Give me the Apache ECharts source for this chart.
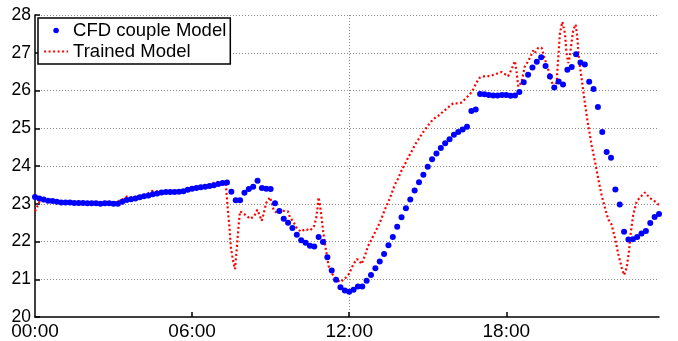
<!DOCTYPE html>
<html>
<head>
<meta charset="utf-8">
<script src="https://cdn.jsdelivr.net/npm/echarts@6/dist/echarts.min.js"></script>
<style>
  html, body { margin: 0; padding: 0; background: #fff; }
  #chart { width: 678px; height: 341px; }
</style>
</head>
<body>
<div id="chart"></div>
<script>
// CFD couple model: one value every 10 minutes, 00:00 .. 23:50
const cfdValues = [
  23.18, 23.14, 23.11, 23.08, 23.07, 23.05, 23.03, 23.03, 23.03, 23.02,
  23.02, 23.02, 23.01, 23.01, 23.01, 23.00, 23.01, 23.01, 23.00, 23.00,
  23.05, 23.10, 23.12, 23.14, 23.17, 23.20, 23.22, 23.25, 23.27, 23.30,
  23.31, 23.31, 23.31, 23.32, 23.33, 23.37, 23.40, 23.42, 23.44, 23.45,
  23.47, 23.49, 23.52, 23.55, 23.56,
  23.32, 23.09, 23.09, 23.29, 23.39, 23.45, 23.61, 23.42, 23.40, 23.39,
  23.01, 22.81, 22.60, 22.50, 22.36, 22.18, 22.03, 21.97, 21.89, 21.87,
  22.12, 21.99, 21.58, 21.23, 20.99,
  20.79, 20.70, 20.67, 20.72, 20.81, 20.81, 20.96, 21.11, 21.29, 21.47,
  21.67, 21.90, 22.12, 22.39, 22.64, 22.88, 23.11, 23.35, 23.57, 23.77,
  23.98, 24.18, 24.33, 24.48, 24.60, 24.71, 24.83, 24.90, 24.97, 25.04,
  25.46, 25.50, 25.91, 25.90, 25.88, 25.87, 25.87, 25.88, 25.88, 25.86,
  25.87, 25.96, 26.22, 26.42, 26.61, 26.76, 26.88, 26.65, 26.37, 26.08,
  26.24, 26.16, 26.55, 26.62, 26.96, 26.74, 26.69, 26.23, 26.04, 25.56,
  24.90, 24.37, 24.22, 23.38, 22.98, 22.26, 22.05, 22.06, 22.12, 22.21,
  22.28, 22.49, 22.65, 22.73
];
const cfdStepHours = 10 / 60;

// Trained model (hours, °C)
const trainedHours = [
  0.00, 0.09, 0.19, 0.57, 0.96, 1.53, 2.10, 2.67, 3.00, 3.13,
  3.31, 3.50, 3.74, 4.01, 4.27, 4.48, 4.70, 5.03, 5.54, 5.73,
  5.92, 6.18, 6.50, 6.75, 7.07, 7.29, 7.36, 7.43, 7.48, 7.58,
  7.64, 7.73, 7.78, 7.83, 8.02, 8.22, 8.37, 8.49, 8.57, 8.66,
  8.72, 8.83, 8.90, 8.98, 9.04, 9.11, 9.24, 9.36, 9.50, 9.66,
  9.74, 9.87, 10.00, 10.15, 10.32, 10.51, 10.66, 10.74, 10.79, 10.83,
  10.89, 10.96, 11.02, 11.12, 11.21, 11.30, 11.46, 11.65, 11.84, 12.00,
  12.15, 12.28, 12.36, 12.47, 12.60, 12.72, 12.85, 12.98, 13.11, 13.23,
  13.36, 13.49, 13.61, 13.74, 13.87, 14.00, 14.13, 14.25, 14.38, 14.51,
  14.64, 14.76, 14.89, 15.02, 15.21, 15.40, 15.59, 15.78, 15.97, 16.16,
  16.29, 16.42, 16.61, 16.74, 16.86, 16.99, 17.18, 17.37, 17.57, 17.82,
  18.07, 18.20, 18.33, 18.39, 18.46, 18.58, 18.71, 18.84, 18.96, 19.03,
  19.09, 19.22, 19.29, 19.35, 19.48, 19.60, 19.73, 19.83, 19.92, 19.99,
  20.05, 20.14, 20.24, 20.30, 20.37, 20.43, 20.49, 20.56, 20.65, 20.71,
  20.78, 20.88, 21.00, 21.13, 21.26, 21.39, 21.51, 21.64, 21.77, 21.90,
  22.02, 22.15, 22.28, 22.41, 22.50, 22.60, 22.69, 22.76, 22.85, 22.98,
  23.11, 23.30, 23.49, 23.68, 23.83
];
const trainedValues = [
  22.80, 22.93, 23.08, 23.05, 23.04, 23.03, 23.02, 23.02, 23.02, 23.06,
  23.10, 23.19, 23.17, 23.21, 23.25, 23.34, 23.32, 23.31, 23.31, 23.35,
  23.41, 23.44, 23.45, 23.54, 23.59, 23.50, 22.89, 22.36, 21.84, 21.44,
  21.27, 22.01, 22.45, 22.80, 22.71, 22.60, 22.67, 22.84, 22.71, 22.55,
  22.70, 23.02, 23.10, 23.17, 23.02, 22.84, 22.75, 22.80, 22.81, 22.80,
  22.64, 22.52, 22.36, 22.26, 22.33, 22.29, 22.41, 22.62, 22.89, 23.17,
  22.95, 22.54, 22.19, 21.75, 21.36, 21.18, 21.05, 20.92, 21.02, 21.15,
  21.38, 21.53, 21.52, 21.40, 21.62, 21.88, 22.05, 22.23, 22.41, 22.60,
  22.84, 23.04, 23.25, 23.50, 23.67, 23.88, 24.05, 24.22, 24.38, 24.56,
  24.70, 24.83, 24.96, 25.08, 25.24, 25.33, 25.44, 25.55, 25.66, 25.66,
  25.68, 25.77, 25.90, 26.03, 26.21, 26.34, 26.38, 26.38, 26.43, 26.49,
  26.38, 26.56, 26.78, 26.51, 26.10, 26.22, 26.64, 26.78, 26.95, 27.06,
  26.99, 27.13, 27.17, 27.13, 26.82, 26.56, 26.25, 26.03, 26.21, 26.91,
  27.52, 27.82, 27.52, 26.99, 26.73, 26.91, 27.26, 27.61, 27.75, 27.43,
  26.82, 26.30, 25.68, 25.07, 24.55, 24.11, 23.67, 23.23, 22.89, 22.58,
  22.45, 22.10, 21.66, 21.31, 21.11, 21.31, 21.75, 22.27, 22.71, 23.06,
  23.17, 23.30, 23.15, 23.06, 22.97
];

const xTickHours = [0, 6, 12, 18];
const xTickLabels = ['00:00', '06:00', '12:00', '18:00'];
const yTicks = [20, 21, 22, 23, 24, 25, 26, 27, 28];

const FONT = '"Liberation Sans", Arial, Helvetica, sans-serif';

const cfdData = cfdValues.map((v, i) => [i * cfdStepHours, v]);
const trainedData = trainedHours.map((h, i) => [h, trainedValues[i]]);
const xMax = (cfdValues.length - 1) * cfdStepHours;

const chart = echarts.init(document.getElementById('chart'), null, { renderer: 'canvas' });

const gridLine = { show: true, lineStyle: { color: '#8a8a8a', width: 1, type: [1, 2] } };
const redDots = { color: '#ff0000', width: 2.2, type: [2, 2.5] };

chart.setOption({
  animation: false,
  backgroundColor: '#ffffff',
  grid: { left: 35, right: 19, top: 15, bottom: 21, containLabel: false },
  legend: {
    left: 38,
    top: 18,
    orient: 'vertical',
    backgroundColor: '#ffffff',
    borderColor: '#000000',
    borderWidth: 1.5,
    borderRadius: 0,
    padding: [3, 4, 3, 5],
    itemGap: 2,
    itemWidth: 24,
    itemHeight: 5.5,
    textStyle: { fontFamily: FONT, fontSize: 18.5, color: '#000' },
    data: [
      { name: 'CFD couple Model', icon: 'circle', itemStyle: { opacity: 1 } },
      { name: 'Trained Model', itemStyle: { opacity: 0 }, lineStyle: redDots }
    ]
  },
  xAxis: {
    type: 'value',
    min: 0,
    max: xMax,
    interval: 6,
    axisLine: { show: true, onZero: false, lineStyle: { color: '#000', width: 1.5 } },
    axisTick: { show: true, inside: true, length: 5, customValues: xTickHours.slice(1), lineStyle: { color: '#000', width: 1.5 } },
    axisLabel: {
      customValues: xTickHours,
      formatter: v => xTickLabels[xTickHours.indexOf(v)] || '',
      fontFamily: FONT, fontSize: 19, color: '#000', margin: 5
    },
    splitLine: Object.assign({ showMinLine: false, showMaxLine: false }, gridLine)
  },
  yAxis: {
    type: 'value',
    min: yTicks[0],
    max: yTicks[yTicks.length - 1],
    interval: 1,
    axisLine: { show: true, onZero: false, lineStyle: { color: '#000', width: 1.5 } },
    axisTick: { show: true, inside: true, length: 5, lineStyle: { color: '#000', width: 1.5 } },
    axisLabel: { fontFamily: FONT, fontSize: 17.5, color: '#000', margin: 4 },
    splitLine: Object.assign({ showMinLine: false }, gridLine)
  },
  series: [
    {
      name: 'CFD couple Model',
      type: 'scatter',
      data: cfdData,
      symbol: 'circle',
      symbolSize: 6,
      itemStyle: { color: '#0000ff', opacity: 1 },
      z: 3
    },
    {
      name: 'Trained Model',
      type: 'line',
      data: trainedData,
      showSymbol: false,
      symbol: 'none',
      itemStyle: { color: '#ff0000' },
      lineStyle: redDots,
      z: 2
    }
  ]
});
</script>
</body>
</html>
